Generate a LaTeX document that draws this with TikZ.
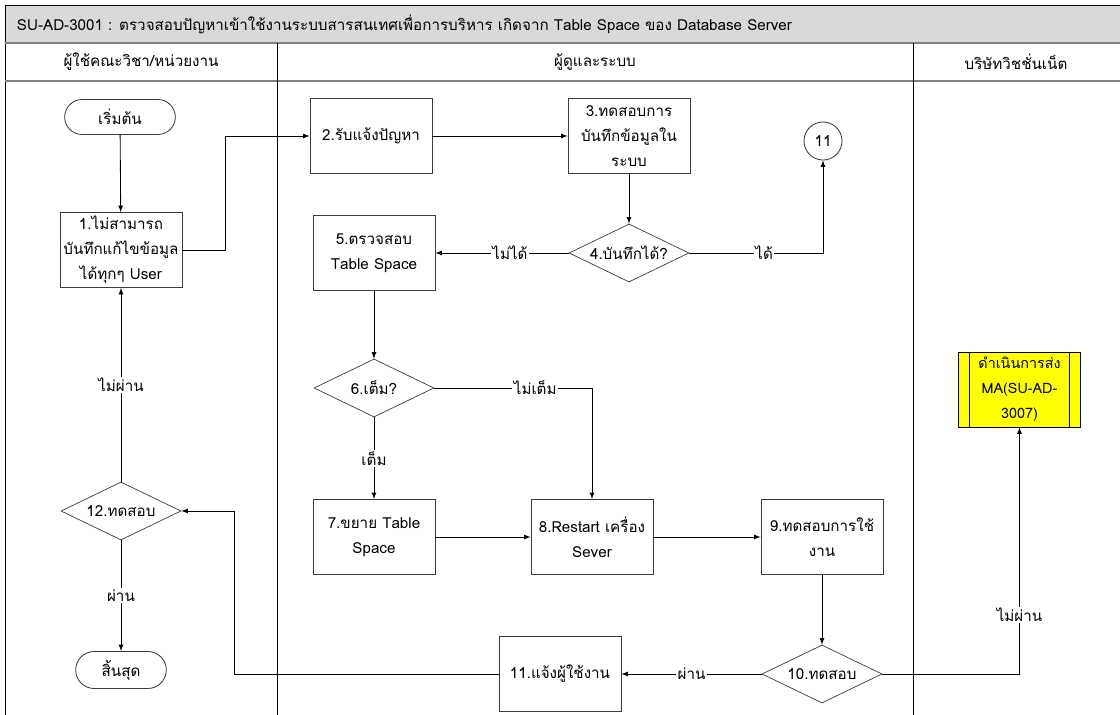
\documentclass[tikz,border=0pt]{standalone}
\usepackage{fontspec}
\setmainfont[Script=Thai]{Loma}
\usepackage{tikz}
\usetikzlibrary{arrows,shapes,positioning}
\usepackage{xcolor}
\definecolor{hdrgray}{RGB}{217,217,217}
\definecolor{rulegray}{RGB}{128,128,128}
\definecolor{boxline}{RGB}{60,60,60}
\definecolor{mayellow}{RGB}{255,255,0}
\tikzstyle{arrow} = [->,>=latex,line width=0.6pt]
\tikzstyle{process} = [rectangle, draw=boxline, line width=0.6pt, minimum width=30.5mm, minimum height=18.75mm, align=center, inner sep=1pt]
\tikzstyle{decision} = [diamond, draw=boxline, line width=0.5pt, aspect=2, minimum width=30mm, minimum height=14.5mm, inner sep=0pt, align=center]
\tikzstyle{terminal} = [rounded rectangle, draw=boxline, line width=0.6pt, minimum width=30mm, minimum height=8.75mm]
\tikzstyle{linkpoint} = [circle, draw=boxline, line width=0.6pt, minimum size=9.5mm, inner sep=0pt]
\tikzstyle{edgetext} = [fill=white, inner sep=1pt]

\begin{document}
\begin{tikzpicture}[x=0.025cm, y=-0.025cm, font=\fontsize{10.8}{17.8}\selectfont]
\useasboundingbox (0,0) rectangle (1120,715);

% Header and swimlanes
\fill[hdrgray] (5,5) rectangle (1120,43);
\draw[line width=0.7pt] (5,5) -- (1120,5);
\draw[line width=0.7pt] (5,5) -- (5,715);
\draw[rulegray, line width=1.2pt] (5,43) -- (1120,43);
\draw[rulegray, line width=1.2pt] (5,81) -- (1120,81);
\draw[line width=0.7pt] (277,43) -- (277,715);
\draw[line width=0.7pt] (913,43) -- (913,715);

\node[anchor=west] (title) at (12,24) {SU-AD-3001 : ตรวจสอบปัญหาเข้าใช้งานระบบสารสนเทศเพื่อการบริหาร เกิดจาก Table Space ของ Database Server};
\node (lane1) at (141,62) {ผู้ใช้คณะวิชา/หน่วยงาน};
\node (lane2) at (595,62) {ผู้ดูและระบบ};
\node (lane3) at (1016,62) {บริษัทวิชชั่นเน็ต};

% Steps
\node[terminal] (start) at (120,117) {เริ่มต้น};
\node[process] (n1) at (121,250) {1.ไม่สามารถ\\บันทึกแก้ไขข้อมูล\\ได้ทุกๆ User};
\node[process] (n2) at (371,136) {2.รับแจ้งปัญหา};
\node[process] (n3) at (629,136) {3.ทดสอบการ\\บันทึกข้อมูลใน\\ระบบ};
\node[linkpoint] (c11) at (823,141) {11};
\node[decision] (d4) at (629,253) {4.บันทึกได้?};
\node[process] (n5) at (374,253) {5.ตรวจสอบ\\Table Space};
\node[decision] (d6) at (374,388) {6.เต็ม?};
\node[process] (n7) at (374,537) {7.ขยาย Table\\Space};
\node[process] (n8) at (592,537) {8.Restart เครื่อง\\Sever};
\node[process] (n9) at (822,537) {9.ทดสอบการใช้\\งาน};
\node[decision] (d10) at (822,674) {10.ทดสอบ};
\node[process] (n11) at (560,674) {11.แจ้งผู้ใช้งาน};
\node[decision] (d12) at (121,511) {12.ทดสอบ};
\node[terminal, minimum width=25mm, minimum height=9.25mm] (stop) at (121,670) {สิ้นสุด};
\node[process, fill=mayellow, draw=black, font=\fontsize{10.2}{17.8}\selectfont] (ma) at (1019.5,389.5) {ดำเนินการส่ง\\MA(SU-AD-\\3007)};
\draw[line width=0.6pt] ([xshift=2.8mm]ma.north west) -- ([xshift=2.8mm]ma.south west);
\draw[line width=0.6pt] ([xshift=-2.8mm]ma.north east) -- ([xshift=-2.8mm]ma.south east);

% Flow
\draw[arrow] (start) -- (n1);
\draw[arrow] (n1.east) -- ++(43,0) |- (n2.west);
\draw[arrow] (n2) -- (n3);
\draw[arrow] (n3) -- (d4);
\draw[arrow] (d4.west) -- node[edgetext, pos=0.44] {ไม่ได้} (n5.east);
\draw[arrow] (d4.east) -| node[edgetext, pos=0.28] {ได้} (c11.south);
\draw[arrow] (n5) -- (d6);
\draw[arrow] (d6.east) -| node[edgetext, pos=0.32] {ไม่เต็ม} (n8.north);
\draw[arrow] (d6.south) -- node[edgetext] {เต็ม} (n7.north);
\draw[arrow] (n7) -- (n8);
\draw[arrow] (n8) -- (n9);
\draw[arrow] (n9) -- (d10);
\draw[arrow] (d10.west) -- node[edgetext] {ผ่าน} (n11.east);
\draw[arrow] (d10.east) -| node[edgetext, pos=0.62] {ไม่ผ่าน} (ma.south);
\draw[arrow] (n11.west) -- ++(-264,0) |- (d12.east);
\draw[arrow] (d12.north) -- node[edgetext] {ไม่ผ่าน} (n1.south);
\draw[arrow] (d12.south) -- node[edgetext] {ผ่าน} (stop.north);
\end{tikzpicture}
\end{document}
